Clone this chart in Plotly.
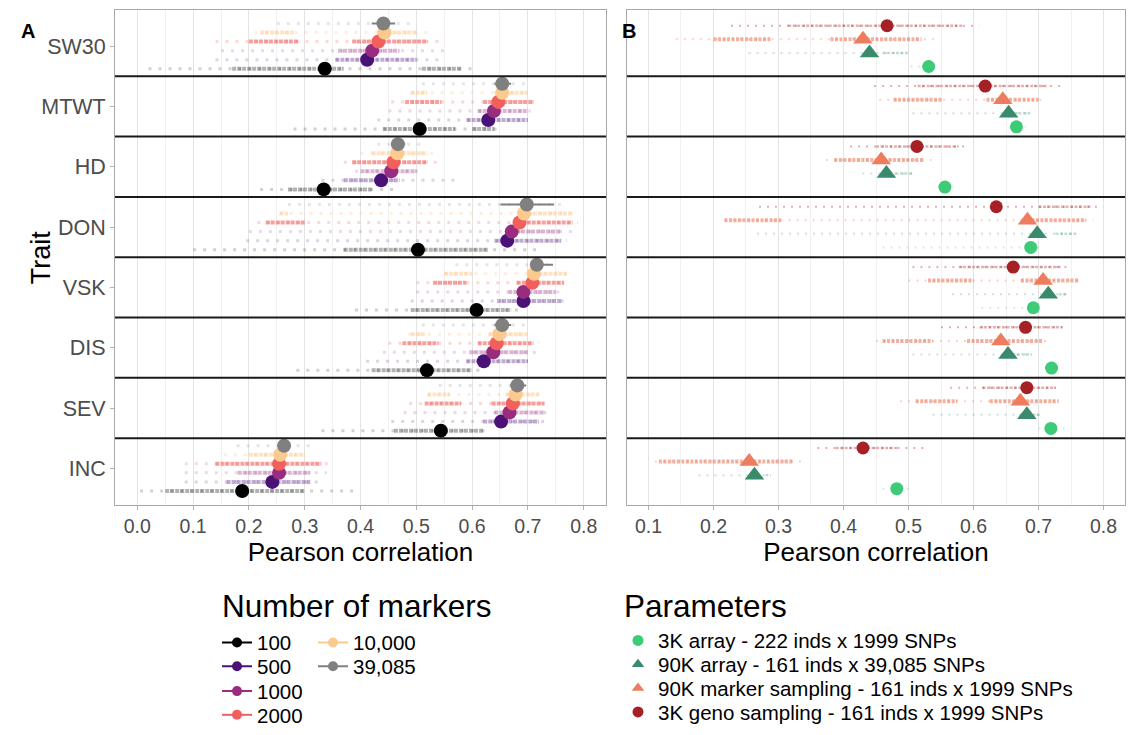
import plotly.graph_objects as go

# ---------------- data ----------------
traits = ["SW30", "MTWT", "HD", "DON", "VSK", "DIS", "SEV", "INC"]
marker_labels = ["100", "500", "1000", "2000", "10,000", "39,085"]
param_labels = [
    "3K array - 222 inds x 1999 SNPs",
    "90K array - 161 inds x 39,085 SNPs",
    "90K marker sampling - 161 inds x 1999 SNPs",
    "3K geno sampling - 161 inds x 1999 SNPs",
]

# Panel A: mean Pearson correlation per trait for each number of markers
a_100 = [0.336, 0.506, 0.334, 0.503, 0.608, 0.519, 0.544, 0.188]
a_500 = [0.412, 0.629, 0.437, 0.663, 0.692, 0.621, 0.652, 0.242]
a_1000 = [0.421, 0.639, 0.455, 0.671, 0.692, 0.638, 0.667, 0.254]
a_2000 = [0.432, 0.647, 0.459, 0.685, 0.708, 0.644, 0.673, 0.254]
a_10000 = [0.443, 0.654, 0.466, 0.693, 0.711, 0.649, 0.678, 0.256]
a_39085 = [0.441, 0.654, 0.467, 0.698, 0.716, 0.654, 0.681, 0.263]
a_39085_lo = [0.420, 0.640, 0.455, 0.651, 0.705, 0.640, 0.668, 0.252]
a_39085_hi = [0.462, 0.670, 0.480, 0.747, 0.745, 0.670, 0.697, 0.275]

# Panel A: spread of replicate correlations (overall range and dense clusters)
a_100_full = [(0.02, 0.61), (0.28, 0.65), (0.22, 0.46), (0.10, 0.72), (0.39, 0.685), (0.285, 0.62), (0.33, 0.625), (0.005, 0.39)]
a_100_core = [[(0.17, 0.37), (0.51, 0.58)], [(0.44, 0.57), (0.60, 0.64)], [(0.27, 0.42)], [(0.37, 0.63)], [(0.49, 0.67)], [(0.42, 0.60)], [(0.46, 0.62)], [(0.05, 0.30)]]
a_500_full = [(0.14, 0.54), (0.43, 0.70), (0.33, 0.57), (0.195, 0.77), (0.49, 0.765), (0.41, 0.70), (0.455, 0.735), (0.085, 0.33)]
a_500_core = [[(0.355, 0.50)], [(0.59, 0.70)], [(0.37, 0.47)], [(0.64, 0.76)], [(0.645, 0.76)], [(0.59, 0.70)], [(0.62, 0.72)], [(0.16, 0.31)]]
a_1000_full = [(0.15, 0.56), (0.45, 0.705), (0.39, 0.51), (0.20, 0.78), (0.50, 0.76), (0.44, 0.72), (0.477, 0.74), (0.085, 0.34)]
a_1000_core = [[(0.36, 0.47)], [(0.61, 0.70)], [(0.40, 0.50)], [(0.67, 0.76)], [(0.665, 0.75)], [(0.595, 0.70)], [(0.64, 0.73)], [(0.18, 0.31)]]
a_2000_full = [(0.14, 0.55), (0.455, 0.72), (0.37, 0.54), (0.215, 0.79), (0.50, 0.765), (0.45, 0.72), (0.487, 0.735), (0.085, 0.35)]
a_2000_core = [[(0.20, 0.29), (0.385, 0.52)], [(0.48, 0.545), (0.62, 0.71)], [(0.385, 0.52)], [(0.23, 0.30), (0.68, 0.78)], [(0.53, 0.59), (0.68, 0.765)], [(0.475, 0.54), (0.61, 0.71)], [(0.515, 0.58), (0.635, 0.73)], [(0.14, 0.33)]]
a_10000_full = [(0.21, 0.53), (0.49, 0.70), (0.40, 0.53), (0.255, 0.78), (0.55, 0.77), (0.485, 0.70), (0.52, 0.72), (0.155, 0.30)]
a_10000_core = [[(0.22, 0.28), (0.43, 0.50)], [(0.49, 0.52), (0.64, 0.70)], [(0.42, 0.52)], [(0.255, 0.27), (0.70, 0.78)], [(0.55, 0.60), (0.71, 0.77)], [(0.49, 0.515), (0.63, 0.70)], [(0.52, 0.56), (0.66, 0.72)], [(0.20, 0.30)]]
a_39085_full = [(0.25, 0.50), (0.51, 0.70), (0.43, 0.51), (0.27, 0.76), (0.57, 0.747), (0.51, 0.695), (0.54, 0.70), (0.178, 0.31)]

# Panel B: mean Pearson correlation per trait for each parameter set
b_3k_array = [0.531, 0.666, 0.556, 0.688, 0.692, 0.720, 0.719, 0.482]
b_90k_array = [0.440, 0.654, 0.466, 0.698, 0.715, 0.653, 0.682, 0.263]
b_90k_sampling = [0.430, 0.645, 0.458, 0.683, 0.707, 0.642, 0.672, 0.255]
b_3k_geno = [0.467, 0.618, 0.513, 0.635, 0.661, 0.680, 0.682, 0.430]

b_3k_array_full = [(0.503, 0.531), (0.666, 0.68), (0.556, 0.57), (0.46, 0.70), (0.612, 0.70), (0.71, 0.735), (0.70, 0.74), (0.46, 0.508)]
b_3k_array_core = [[], [], [], [(0.69, 0.70)], [], [], [], []]
b_90k_array_full = [(0.254, 0.50), (0.506, 0.69), (0.429, 0.506), (0.267, 0.758), (0.567, 0.744), (0.506, 0.691), (0.537, 0.702), (0.177, 0.288)]
b_90k_array_core = [[(0.46, 0.50)], [(0.662, 0.69)], [(0.48, 0.506)], [(0.726, 0.758)], [(0.731, 0.744)], [(0.66, 0.69)], [(0.67, 0.702)], [(0.28, 0.288)]]
b_90k_sampling_full = [(0.142, 0.543), (0.455, 0.712), (0.373, 0.535), (0.217, 0.784), (0.50, 0.763), (0.45, 0.712), (0.487, 0.731), (0.11, 0.344)]
b_90k_sampling_core = [[(0.20, 0.29), (0.38, 0.52)], [(0.477, 0.551), (0.62, 0.70)], [(0.386, 0.524)], [(0.217, 0.304), (0.689, 0.773)], [(0.53, 0.60), (0.673, 0.763)], [(0.46, 0.537), (0.59, 0.707)], [(0.511, 0.575), (0.625, 0.731)], [(0.116, 0.323)]]
b_3k_geno_full = [(0.227, 0.609), (0.447, 0.736), (0.41, 0.588), (0.27, 0.79), (0.506, 0.744), (0.55, 0.742), (0.564, 0.734), (0.36, 0.524)]
b_3k_geno_core = [[(0.315, 0.583)], [(0.514, 0.715)], [(0.45, 0.577)], [(0.70, 0.78)], [(0.577, 0.736)], [(0.609, 0.736)], [(0.614, 0.726)], [(0.388, 0.484)]]

x_ticks_a = [0.0, 0.1, 0.2, 0.3, 0.4, 0.5, 0.6, 0.7, 0.8]
x_ticks_b = [0.1, 0.2, 0.3, 0.4, 0.5, 0.6, 0.7, 0.8]

# ---------------- styles ----------------
W, H = 1139, 735
FONT = "Liberation Sans, Arial, sans-serif"
marker_colors = ["#000000", "#4A1177", "#982D80", "#F1605D", "#FCC98E", "#808080"]
param_colors = ["#3DCB78", "#3A8A6C", "#EE7D5F", "#A62126"]
param_symbols = ["circle", "triangle-up", "triangle-up", "circle"]
param_sizes = [13, 17, 17, 13]
offsets_a = [-0.375, -0.225, -0.075, 0.075, 0.225, 0.375]   # 100 ... 39,085 (bottom -> top)
offsets_b = [-0.3375, -0.1125, 0.1125, 0.3375]             # 3K array ... 3K geno (bottom -> top)

n = len(traits)
y_base = [n - i for i in range(n)]


def rgba(hexc, a):
    h = hexc.lstrip("#")
    return "rgba(%d,%d,%d,%.3f)" % (int(h[0:2], 16), int(h[2:4], 16), int(h[4:6], 16), a)


def seg_xy(seg_lists, ys):
    xs, yy = [], []
    for segs, y in zip(seg_lists, ys):
        for lo, hi in segs:
            xs += [lo, hi, None]
            yy += [y, y, None]
    return xs, yy


fig = go.Figure()

# ---------------- panel A ----------------
a_means = [a_100, a_500, a_1000, a_2000, a_10000, a_39085]
a_fulls = [a_100_full, a_500_full, a_1000_full, a_2000_full, a_10000_full, a_39085_full]
a_cores = [a_100_core, a_500_core, a_1000_core, a_2000_core, a_10000_core, [[] for _ in traits]]
full_alpha_a = [0.18, 0.18, 0.18, 0.24, 0.3, 0.2]
core_alpha_a = [0.30, 0.35, 0.35, 0.60, 0.50, 0.3]

for k in range(len(marker_labels)):
    ys = [b + offsets_a[k] for b in y_base]
    fx, fy = seg_xy([[r] for r in a_fulls[k]], ys)
    fig.add_trace(go.Scatter(x=fx, y=fy, mode="lines", xaxis="x", yaxis="y",
                             line=dict(color=rgba(marker_colors[k], full_alpha_a[k]), width=3, dash="3px,7px"),
                             showlegend=False, hoverinfo="skip"))
    cx, cy = seg_xy(a_cores[k], ys)
    if cx:
        fig.add_trace(go.Scatter(x=cx, y=cy, mode="lines", xaxis="x", yaxis="y",
                                 line=dict(color=rgba(marker_colors[k], core_alpha_a[k]), width=4, dash="4px,1px"),
                                 showlegend=False, hoverinfo="skip"))

for k in range(len(marker_labels)):
    ys = [b + offsets_a[k] for b in y_base]
    err = None
    if marker_labels[k] == "39,085":
        err = dict(type="data", symmetric=False,
                   array=[h - m for h, m in zip(a_39085_hi, a_39085)],
                   arrayminus=[m - l for m, l in zip(a_39085, a_39085_lo)],
                   color=marker_colors[k], thickness=2, width=0)
    fig.add_trace(go.Scatter(x=a_means[k], y=ys, mode="markers", xaxis="x", yaxis="y",
                             marker=dict(color=marker_colors[k], size=14, line=dict(width=0)),
                             error_x=err, showlegend=False, name=marker_labels[k]))

# ---------------- panel B ----------------
b_means = [b_3k_array, b_90k_array, b_90k_sampling, b_3k_geno]
b_fulls = [b_3k_array_full, b_90k_array_full, b_90k_sampling_full, b_3k_geno_full]
b_cores = [b_3k_array_core, b_90k_array_core, b_90k_sampling_core, b_3k_geno_core]
full_alpha_b = [0.25, 0.25, 0.35, 0.35]
core_alpha_b = [0.3, 0.3, 0.6, 0.35]

for k in range(len(param_labels)):
    ys = [b + offsets_b[k] for b in y_base]
    fx, fy = seg_xy([[r] for r in b_fulls[k]], ys)
    fig.add_trace(go.Scatter(x=fx, y=fy, mode="lines", xaxis="x2", yaxis="y2",
                             line=dict(color=rgba(param_colors[k], full_alpha_b[k]), width=2, dash="2px,6px"),
                             showlegend=False, hoverinfo="skip"))
    cx, cy = seg_xy(b_cores[k], ys)
    if cx:
        fig.add_trace(go.Scatter(x=cx, y=cy, mode="lines", xaxis="x2", yaxis="y2",
                                 line=dict(color=rgba(param_colors[k], core_alpha_b[k]),
                                           width=2.5 if k != 2 else 4, dash="3px,1.5px"),
                                 showlegend=False, hoverinfo="skip"))

for k in range(len(param_labels)):
    ys = [b + offsets_b[k] for b in y_base]
    fig.add_trace(go.Scatter(x=b_means[k], y=ys, mode="markers", xaxis="x2", yaxis="y2",
                             marker=dict(color=param_colors[k], size=param_sizes[k],
                                         symbol=param_symbols[k], line=dict(width=0)),
                             showlegend=False, name=param_labels[k]))

# ---------------- legends (one legend per entry for exact placement) ----------------
legend_layout = {}
LEG_FONT_A = dict(family=FONT, size=20.5, color="#000000")
LEG_FONT_B = dict(family=FONT, size=20.5, color="#000000")
col_x = [217, 313]
row_y = [647, 671, 696, 720]
for k, lab in enumerate(marker_labels):
    col, row = (0, k) if k < 4 else (1, k - 4)
    name = "legend" if k == 0 else "legend%d" % (k + 1)
    fig.add_trace(go.Scatter(x=[None], y=[None], mode="lines+markers", name=lab, legend=name,
                             line=dict(color=marker_colors[k], width=2),
                             marker=dict(color=marker_colors[k], size=10), xaxis="x", yaxis="y"))
    legend_layout[name] = dict(x=col_x[col] / W, y=1 - row_y[row] / H, xanchor="left", yanchor="middle",
                               bgcolor="rgba(0,0,0,0)", font=LEG_FONT_A, borderwidth=0, itemclick=False)

p_rows = [645, 669, 693, 717]
for k, lab in enumerate(param_labels):
    name = "legend%d" % (7 + k)
    fig.add_trace(go.Scatter(x=[None], y=[None], mode="markers", name=lab, legend=name,
                             marker=dict(color=param_colors[k], symbol=param_symbols[k], size=11),
                             xaxis="x2", yaxis="y2"))
    legend_layout[name] = dict(x=618 / W, y=1 - p_rows[k] / H, xanchor="left", yanchor="middle",
                               bgcolor="rgba(0,0,0,0)", font=LEG_FONT_B, borderwidth=0, itemclick=False)

# ---------------- separators between traits ----------------
shapes = []
for i in range(n - 1):
    yv = y_base[i] - 0.5
    for xr, yr in (("x domain", "y"), ("x2 domain", "y2")):
        shapes.append(dict(type="line", xref=xr, yref=yr, x0=0, x1=1, y0=yv, y1=yv,
                           line=dict(color="#1A1A1A", width=2)))

# ---------------- axes ----------------
dom_y = [1 - 508 / H, 1 - 10 / H]
xtick_font = dict(family=FONT, size=19.5, color="#4D4D4D")
ytick_font = dict(family=FONT, size=21.5, color="#4D4D4D")
common_x = dict(showgrid=True, gridcolor="#E3E3E3", gridwidth=1,
                minor=dict(showgrid=True, gridcolor="#F1F1F1", gridwidth=1, dtick=0.05),
                zeroline=False, showline=True, linecolor="#A8A8A8", linewidth=1, mirror=True,
                ticks="outside", ticklen=4, tickcolor="#B3B3B3", tickfont=xtick_font, tickformat=".1f",
                title=dict(text="Pearson correlation", font=dict(family=FONT, size=26, color="#000000"), standoff=0))
common_y = dict(range=[0.4, n + 0.6], showgrid=False, zeroline=False, showline=True, linecolor="#A8A8A8",
                linewidth=1, mirror=True, tickvals=y_base, ticktext=traits, fixedrange=True)

fig.update_layout(
    width=W, height=H,
    margin=dict(l=0, r=0, t=0, b=0),
    paper_bgcolor="white", plot_bgcolor="white",
    font=dict(family=FONT, color="#000000"),
    xaxis=dict(domain=[115 / W, 606 / W], range=[-0.04, 0.84], tickvals=x_ticks_a, anchor="y", **common_x),
    xaxis2=dict(domain=[627 / W, 1125 / W], range=[0.067, 0.833], tickvals=x_ticks_b, anchor="y2", **common_x),
    yaxis=dict(domain=dom_y, anchor="x", ticks="outside", ticklen=4, tickcolor="#B3B3B3", tickfont=ytick_font, **common_y),
    yaxis2=dict(domain=dom_y, anchor="x2", showticklabels=False, ticks="", **common_y),
    shapes=shapes,
    annotations=[
        dict(text="<b>A</b>", x=19 / W, y=1 - 18 / H, xref="paper", yref="paper", showarrow=False,
             font=dict(family=FONT, size=20, color="#000000")),
        dict(text="<b>B</b>", x=629 / W, y=1 - 18 / H, xref="paper", yref="paper", showarrow=False,
             font=dict(family=FONT, size=20, color="#000000")),
        dict(text="Trait", x=24 / W, y=1 - 260 / H, xref="paper", yref="paper", showarrow=False, textangle=-90,
             font=dict(family=FONT, size=27, color="#000000")),
        dict(text="Number of markers", x=220 / W, y=1 - 610 / H, xref="paper", yref="paper", showarrow=False,
             xanchor="left", yanchor="middle", font=dict(family=FONT, size=31.5, color="#000000")),
        dict(text="Parameters", x=622 / W, y=1 - 610 / H, xref="paper", yref="paper", showarrow=False,
             xanchor="left", yanchor="middle", font=dict(family=FONT, size=31.5, color="#000000")),
    ],
    **legend_layout,
)

fig.write_html("out.html")
